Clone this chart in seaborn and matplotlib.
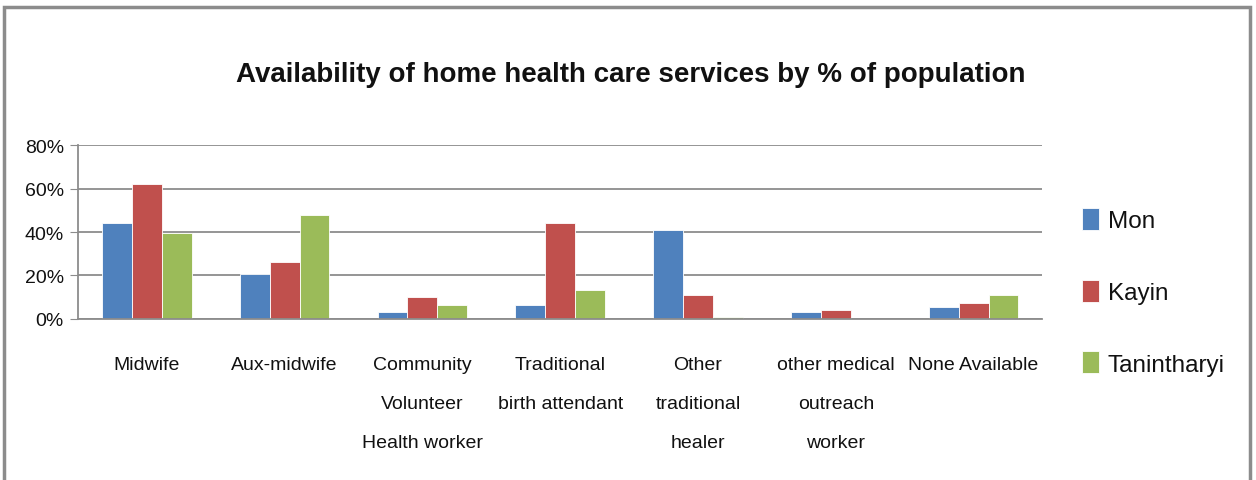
import pandas as pd
import seaborn as sns
import matplotlib.pyplot as plt
from matplotlib.patches import Rectangle
from matplotlib.ticker import PercentFormatter

# Values (percent of population)
categories = ["Midwife", "Aux-midwife", "Community\nVolunteer\nHealth worker",
              "Traditional\nbirth attendant", "Other\ntraditional\nhealer",
              "other medical\noutreach\nworker", "None Available"]
regions = ["Mon", "Kayin", "Tanintharyi"]
mon = [44, 20.5, 3, 6.5, 41, 3, 5.5]
kayin = [62, 26, 10, 44, 11, 4, 7.5]
tanintharyi = [39.5, 48, 6.5, 13.5, 1, 0, 11]
colors = ["#4F81BD", "#C0504D", "#9BBB59"]

df = pd.DataFrame({
    "service": categories * 3,
    "region": [r for r in regions for _ in categories],
    "value": mon + kayin + tanintharyi,
})

sns.set_style("white")
plt.rcParams["font.family"] = ["Liberation Sans", "DejaVu Sans"]

fig = plt.figure(figsize=(12.56, 4.81), dpi=100)
ax = fig.add_axes([0.062, 0.335, 0.768, 0.361])

sns.barplot(data=df, x="service", y="value", hue="region", palette=colors,
            width=0.65, gap=0, saturation=1, ax=ax, edgecolor="white", linewidth=0.6)

ax.set_ylim(0, 80)
ax.set_yticks([0, 20, 40, 60, 80])
ax.yaxis.set_major_formatter(PercentFormatter(decimals=0))
ax.yaxis.grid(True, color="#8c8c8c", linewidth=1.3)
ax.set_axisbelow(True)
ax.set_xlabel("")
ax.set_ylabel("")
for side in ["top", "right"]:
    ax.spines[side].set_visible(False)
ax.spines["left"].set_color("#8c8c8c")
ax.spines["bottom"].set_color("#8c8c8c")
ax.spines["left"].set_linewidth(1.3)
ax.spines["bottom"].set_linewidth(1.3)
ax.tick_params(axis="y", left=True, length=6, color="#8c8c8c", labelsize=14, pad=4,
               labelcolor="#111111")
ax.tick_params(axis="x", bottom=False, labelsize=14, pad=23, labelcolor="#111111")
for lbl in ax.get_xticklabels():
    lbl.set_verticalalignment("top")
    lbl.set_linespacing(2.7)

ax.legend(loc="center left", bbox_to_anchor=(1.041, 0.155), frameon=False,
          fontsize=17.5, labelspacing=1.95, handlelength=0.7, handleheight=1.0,
          handletextpad=0.35, borderaxespad=0, borderpad=0, labelcolor="#111111")

fig.suptitle("Availability of home health care services by % of population",
             x=0.502, y=0.872, fontsize=20, fontweight="bold", color="#111111")

fig.patches.append(Rectangle((0.003, -0.05), 0.992, 1.033, transform=fig.transFigure,
                             fill=False, edgecolor="#8c8c8c", linewidth=2.5))

fig.savefig("out.png", dpi=100)
